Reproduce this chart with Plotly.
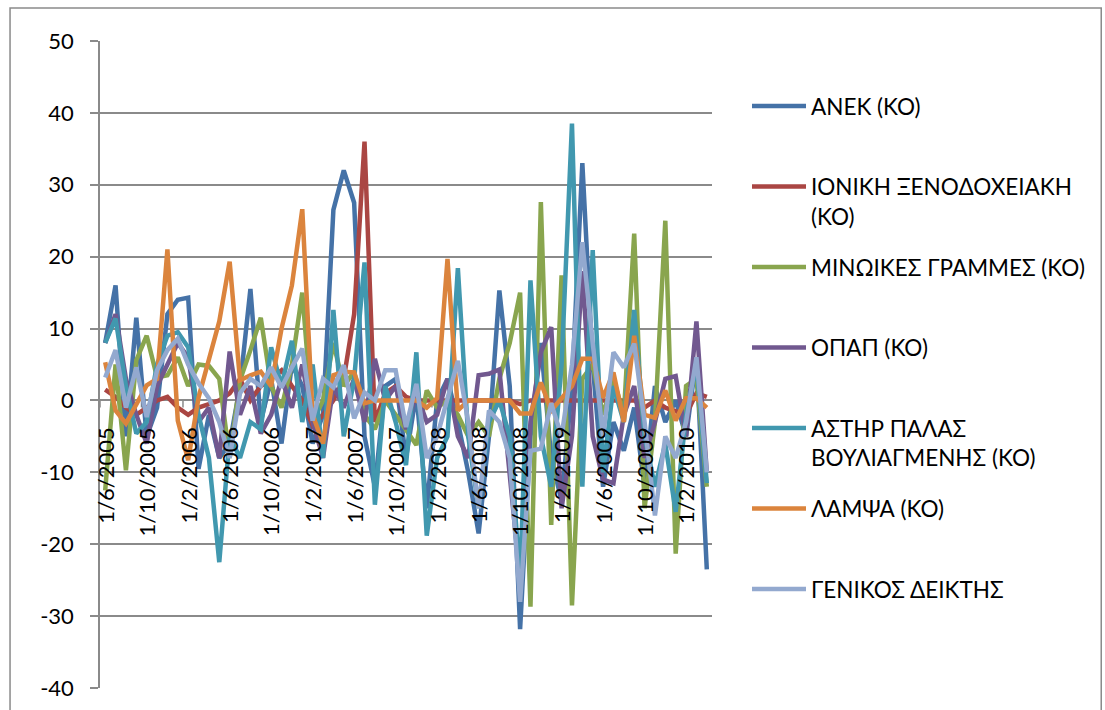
import plotly.graph_objects as go

months = [
    "1/6/2005", "1/7/2005", "1/8/2005", "1/9/2005", "1/10/2005", "1/11/2005", "1/12/2005",
    "1/1/2006", "1/2/2006", "1/3/2006", "1/4/2006", "1/5/2006", "1/6/2006", "1/7/2006",
    "1/8/2006", "1/9/2006", "1/10/2006", "1/11/2006", "1/12/2006",
    "1/1/2007", "1/2/2007", "1/3/2007", "1/4/2007", "1/5/2007", "1/6/2007", "1/7/2007",
    "1/8/2007", "1/9/2007", "1/10/2007", "1/11/2007", "1/12/2007",
    "1/1/2008", "1/2/2008", "1/3/2008", "1/4/2008", "1/5/2008", "1/6/2008", "1/7/2008",
    "1/8/2008", "1/9/2008", "1/10/2008", "1/11/2008", "1/12/2008",
    "1/1/2009", "1/2/2009", "1/3/2009", "1/4/2009", "1/5/2009", "1/6/2009", "1/7/2009",
    "1/8/2009", "1/9/2009", "1/10/2009", "1/11/2009", "1/12/2009",
    "1/1/2010", "1/2/2010", "1/3/2010", "1/4/2010",
]

tick_labels = ["1/6/2005", "1/10/2005", "1/2/2006", "1/6/2006", "1/10/2006", "1/2/2007",
               "1/6/2007", "1/10/2007", "1/2/2008", "1/6/2008", "1/10/2008", "1/2/2009",
               "1/6/2009", "1/10/2009", "1/2/2010"]

y_tick_values = [-40, -30, -20, -10, 0, 10, 20, 30, 40, 50]
y_tick_text = ["-40", "-30", "-20", "-10", "0", "10", "20", "30", "40", "50"]

anek = [8, 16, -5, 11.5, -5, -1, 12, 14, 14.3, -9.5,
        -2, -8, -6, 2, 15.5, -3, 3, -6, 5, 2,
        -6, -2, 26.5, 32, 27.5, -5, -12, 2, 3, -8,
        1, -15, 0, 3, -3, -10, -18.5, -5, 15.3, 2,
        -31.8, -5, 8, -8, -14, 2, 33, 5, -12, -3,
        -7, -1, -12, 2, -3, 0, -5, 6, -23.5]

ioniki = [1.5, 0.5, -1, -2, -1, 0, 0.5, -1, -2, -1,
          -0.5, 0, 1, 3, 0, 2, 3, 4.2, 2, 0,
          -3.5, -2, 0, 3, 12, 36, -3, 1, 2, 0.5,
          0, 0, 0, 0, 0, 0, 0, 0, 0, 0,
          -0.5, 0, 0, 0, 0, 0, 0, 0, 0, 0,
          0, 0, -1, 0, -1, -1.5, -2, 1, 0.5]

minoikes = [-12.5, 5, -9.7, 5.6, 9, 3.2, 3.5, 6, 2, 5,
            4.8, 3, -8, 2.8, 7, 11.5, 2, -1, 5, 15,
            -3, 0, 8, 2, 4, -2, -4, 0, -2, -4,
            -6.2, 1.4, -1, 0, -2, -5, -3, -5, 3, 8,
            15, -28.7, 27.6, -17.3, 17.4, -28.5, 3, 5, -2, 3,
            -2, 23.2, -15, -3, 25, -21.3, 2, 3, -12]

opap = [8, 12, 3, -2, -6, 2, 5, 8, 6, -3,
        -1, -8, 6.8, -2, 2, -4.6, -2, 3, -1, 5,
        -3, -8, 2, -1, 3, -3, 5.8, 0, 2, -4,
        1, -3, -2, 3, -5, -8, 3.5, 3.7, 4.3, -10,
        -25, -3, 6.7, 10.2, -15, -5, 18, -5, -11, -11.5,
        -2, 2, -8, -3, 3, 3.4, -5, 11, -10]

asthr = [8, 11.4, 2, -4.6, -3, 5, 9, 9.5, 7.4, -2,
         -8, -22.5, -5, -8, -3, -4, 7.4, 2, 8.3, -3,
         5, -8, 12.6, -5, 3, 19.2, -14.5, 2, -3, -9,
         6.7, -18.8, -8, -5, 18.4, -5, -15, -3, 0, -5,
         -25, 16.7, -5, -12, 5, 38.5, -12, 20.9, -10, 2,
         -3, 12.6, -5, -12, -6, -15.5, -2, 5, -11.5]

lampsa = [5.3, -1.4, -3.2, -0.4, 2.1, 3, 21, -2.8, -8.3, 0.4,
          5.6, 11, 19.3, 2.8, 3.5, 4, 2, 10, 16, 26.6,
          -2, -6, 3.5, 4, 3.9, -0.4, 0, 0, 0, 0,
          0, -1, 0.3, 19.7, -1.4, 0, 0, 0, 0, 0,
          -1.8, -1.8, 2.5, -1.4, 0.3, 2, 5.8, 5.8, 0.4, 3.9,
          -3, 9, -2, -2.4, 1.4, -2.8, 0.3, 0.3, -1]

genikos = [3.2, 7, -1, 4.6, -2.3, 4.2, 7, 8.6, 5, 2.4,
           0.3, -3, -8, 1, 3, 2, 4.6, 1.8, 4.6, 7.2,
           -2.8, 3, 1.8, 4.9, -2.5, 1.1, 0, 4.2, 4.2, -3.7,
           2.3, -8, -5, 0, 5.5, -3, -15, -1.4, -3, -8,
           -28, -7, -6.7, -0.4, -5, 5, 22, 8, -5, 6.7,
           4.6, 7.9, -3, -16, -5, -8, -3, 6, -10]

names = ["ΑΝΕΚ (ΚΟ)", "ΙΟΝΙΚΗ ΞΕΝΟΔΟΧΕΙΑΚΗ<br>(ΚΟ)", "ΜΙΝΩΙΚΕΣ ΓΡΑΜΜΕΣ (ΚΟ)", "ΟΠΑΠ (ΚΟ)",
         "ΑΣΤΗΡ ΠΑΛΑΣ<br>ΒΟΥΛΙΑΓΜΕΝΗΣ (ΚΟ)", "ΛΑΜΨΑ (ΚΟ)", "ΓΕΝΙΚΟΣ ΔΕΙΚΤΗΣ"]
values = [anek, ioniki, minoikes, opap, asthr, lampsa, genikos]
colors = ["#4572A7", "#AA4643", "#89A54E", "#71588F", "#4198AF", "#DB843D", "#93A9CF"]

FONT = "Lato, Carlito, Calibri, sans-serif"
GRID = "#8a8a8a"

fig = go.Figure()
for i, (nm, vals, col) in enumerate(zip(names, values, colors)):
    label = nm if "<br>" in nm else nm + "<br>&nbsp;"
    fig.add_trace(go.Scatter(
        x=months, y=vals, mode="lines", name=label,
        legendgroup="g%d" % i,
        line=dict(color=col, width=4.5),
    ))

annotations = []
for t in tick_labels:
    annotations.append(dict(
        x=t, y=0, xref="x", yref="y", text=t, showarrow=False,
        textangle=-90, xanchor="center", yanchor="top", yshift=-25,
        font=dict(family=FONT, size=22, color="#000000"),
    ))

shapes = [dict(type="rect", xref="paper", yref="paper",
               x0=-0.147, x1=1.636, y0=-0.05, y1=1.051,
               line=dict(color="#8a8a8a", width=1.5), layer="below")]
# category-axis tick marks (between categories, every 4th)
for k in range(0, len(months), 4):
    shapes.append(dict(type="line", xref="x", yref="y", ysizemode="pixel", yanchor=0,
                       x0=k - 0.5, x1=k - 0.5, y0=0, y1=-7,
                       line=dict(color=GRID, width=1.5), layer="below"))

fig.update_layout(
    width=1105, height=710,
    margin=dict(l=100, r=393, t=41, b=22, autoexpand=False),
    paper_bgcolor="white", plot_bgcolor="white",
    font=dict(family=FONT, size=20, color="#000000"),
    showlegend=True,
    legend=dict(
        x=1.0572, xanchor="left", y=0.932, yanchor="top",
        valign="top", tracegroupgap=19, itemwidth=54,
        font=dict(family=FONT, size=22.5, color="#000000"),
        bgcolor="rgba(0,0,0,0)",
    ),
    annotations=annotations,
    shapes=shapes,
)
fig.update_xaxes(
    type="category", categoryorder="array", categoryarray=months,
    range=[-0.5, len(months) - 0.5], automargin=False,
    showticklabels=False, showgrid=False, zeroline=False, showline=False, ticks="",
)
fig.update_yaxes(
    range=[-40, 50], tickmode="array", tickvals=y_tick_values, ticktext=y_tick_text,
    automargin=False,
    showgrid=True, gridcolor=GRID, gridwidth=1.5,
    zeroline=False, showline=True, linecolor=GRID, linewidth=1.5,
    ticks="outside", ticklen=8, tickcolor=GRID, tickwidth=1.5,
    ticklabelstandoff=12,
    tickfont=dict(family=FONT, size=22, color="#000000"),
)

fig.write_html("out.html")
